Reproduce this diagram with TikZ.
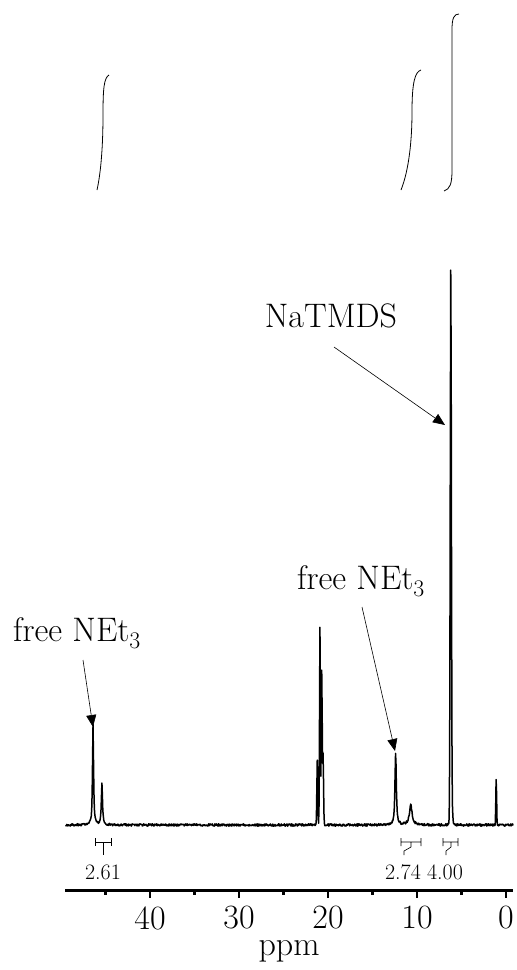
\documentclass[tikz,border=0pt]{standalone}
\usepackage{fontspec}
\usetikzlibrary{arrows.meta}

\begin{document}
\begin{tikzpicture}[x=1pt,y=-1pt,
  declare function={
    lor(\p,\c,\w)=1/(1+pow(min(abs(\p-\c)/\w,100),2));
    gau(\p,\c,\w)=exp(-pow(min(abs(\p-\c)/\w,6),2));
    xpos(\p)=506-8.9*\p;
    spec(\p)=90*lor(\p,46.4,0.07)+10*gau(\p,46.4,0.08)+36*lor(\p,45.4,0.08)+5*gau(\p,45.4,0.08)
      +66*gau(\p,21.2,0.07)+200*gau(\p,20.9,0.07)+155*gau(\p,20.7,0.07)+70*gau(\p,20.55,0.07)
      +66*lor(\p,12.4,0.09)+7*gau(\p,12.4,0.08)+20*lor(\p,10.7,0.18)
      +556*gau(\p,6.2,0.09)+6*lor(\p,6.2,0.08)+9*gau(\p,6.0,0.07)
      +47*gau(\p,1.1,0.06)+1.2*rand;
  },
  big/.style={font=\fontsize{34}{40}\selectfont,inner sep=0pt},
  small/.style={font=\fontsize{22}{26}\selectfont,inner sep=0pt},
  pointer/.style={-{Triangle[length=12pt,width=10pt]},line width=0.6pt}]

\useasboundingbox (0,0) rectangle (517,970);

% integral curves
\draw[line width=0.8pt] (97,190) .. controls (101,172) and (103,145) .. (103,115)
  .. controls (103,88) and (104,78) .. (109,75);
\draw[line width=0.8pt] (401,190) .. controls (409,170) and (412,140) .. (412,112)
  .. controls (412,82) and (415,72) .. (421,70);
\draw[line width=0.8pt] (444,191) .. controls (450,189) and (452,184) .. (452,170)
  -- (452,30) .. controls (452,18) and (454,14) .. (459,14);

% spectrum
\draw[line width=1.5pt,line join=round] plot[domain=49.5:-0.8,samples=1007]
  ({xpos(\x)},{825-spec(\x)});

\coordinate (natip) at (445,425);
\coordinate (freeltip) at (93,727);
\coordinate (freertip) at (395,751);

\node[big,anchor=base] (natmds) at (331,327) {NaTMDS};
\node[big,anchor=base] (freel) at (77,641) {free NEt\textsubscript{3}};
\node[big,anchor=base] (freer) at (361,589) {free NEt\textsubscript{3}};

\draw[pointer] (natmds.base) ++(3,20) -- (natip);
\draw[pointer] (freel.base) ++(6,19) -- (freeltip);
\draw[pointer] (freer.base) ++(1,18) -- (freertip);

% integration marks
\draw[line width=0.6pt] (95,838) -- (95,846) (95,842) -- (111,842) (111,838) -- (111,846)
  (103,842) -- (103,855);
\draw[line width=0.6pt] (401,838) -- (401,846) (401,842) -- (421,842) (421,838) -- (421,846)
  (411,842) -- (411,847) -- (404,851) -- (404,855);
\draw[line width=0.6pt] (443,838) -- (443,846) (443,842) -- (458,842) (458,838) -- (458,846)
  (451,842) -- (451,847) -- (446,851) -- (446,855);

\node[small] (int1) at (103,872) {2.61};
\node[small] (int2) at (403,872) {2.74};
\node[small] (int3) at (445,872) {4.00};

% axis
\draw[line width=3pt] (65,890) -- (513,890);
\foreach \t in {0,10,20,30,40}{
  \draw[line width=2.5pt] ({xpos(\t)},890) -- ++(0,8);
  \node[big] (tick\t) at ({xpos(\t)},918) {\t};
}
\foreach \t in {5,15,25,35,45}
  \draw[line width=2.5pt] ({xpos(\t)},890) -- ++(0,5);

\node[big] (ppm) at (289,951) {ppm};

\end{tikzpicture}
\end{document}
